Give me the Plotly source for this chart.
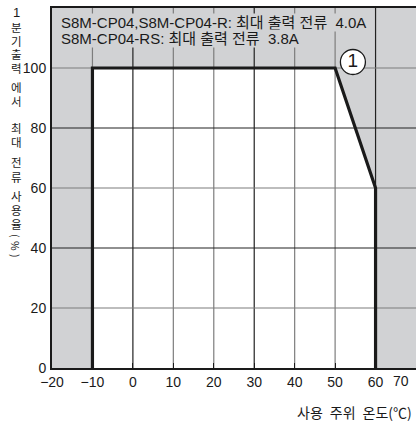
import plotly.graph_objects as go

# Derating curve: ambient temperature (°C) vs. usable current ratio (%)
temp = [-10, -10, 50, 60, 60]
load = [0, 100, 100, 60, 0]

x_ticks = [-20, -10, 0, 10, 20, 30, 40, 50, 60]
x_tick_text = ["−20", "−10", "0", "10", "20", "30", "40", "50", "60"]
y_ticks = [0, 20, 40, 60, 80, 100, 120]
grid_x = [-10, 0, 10, 20, 30, 40, 50, 60]
grid_y = [20, 40, 60, 80, 100]
dark_x = [0, 30, 60]
dark_y = [40, 80]

note_lines = [
    "S8M-CP04,S8M-CP04-R: 최대 출력 전류  4.0A",
    "S8M-CP04-RS: 최대 출력 전류  3.8A",
]
marker_label = "1"
marker_pos = (54.4, 102)

y_title_chars = ["1", "분", "기", "출", "력", "에", "서", "최", "대",
                 "전", "류", "사", "용", "율", "(", "%", ")"]
y_title_px = [13, 27, 41, 54, 68, 87, 101, 128, 142,
              162, 177, 196, 210, 224, 236, 246, 256]
x_title = "사용\u2002주위\u2002온도(℃)"

FONT = "Liberation Sans, Arial, Noto Sans CJK KR, sans-serif"
KFONT = "Noto Sans CJK KR, Liberation Sans, sans-serif"
GRAY_BG = "#d1d2d4"

W, H = 416, 421
ML, MR, MT, MB = 52, 0, 8, 53
plot_h = H - MT - MB

fig = go.Figure()

# white operating area under the curve
path = "M " + " L ".join(f"{x},{y}" for x, y in zip(temp, load)) + " Z"
shapes = [dict(type="path", path=path, xref="x", yref="y",
               fillcolor="white", line=dict(width=0), layer="below")]

for gx in grid_x:
    shapes.append(dict(type="line", xref="x", yref="y", x0=gx, x1=gx, y0=0, y1=120,
                       line=dict(color="#222" if gx in dark_x else "#7d7d7d", width=1.2),
                       layer="between"))
for gy in grid_y:
    shapes.append(dict(type="line", xref="x", yref="y", x0=-20, x1=70, y0=gy, y1=gy,
                       line=dict(color="#222" if gy in dark_y else "#7d7d7d", width=1.2),
                       layer="between"))

fig.add_trace(go.Scatter(x=temp, y=load, mode="lines",
                         line=dict(color="#1a1a1a", width=3.2),
                         hoverinfo="skip", showlegend=False))

fig.add_trace(go.Scatter(x=[marker_pos[0]], y=[marker_pos[1]], mode="markers+text",
                         marker=dict(size=25, color="white",
                                     line=dict(color="#1a1a1a", width=1.3)),
                         text=[marker_label], textposition="middle center",
                         textfont=dict(family=FONT, size=19, color="#1a1a1a"),
                         hoverinfo="skip", showlegend=False))

annotations = []
for line, py in zip(note_lines, [23, 38]):
    annotations.append(dict(
        text=line, xref="paper", yref="paper", x=0, xshift=8,
        y=(H - MB - py) / plot_h, xanchor="left", yanchor="middle",
        showarrow=False, bgcolor=GRAY_BG, borderpad=0,
        font=dict(family=FONT, size=15, color="#1a1a1a")))

# y-axis title, written vertically one character at a time
for ch, py in zip(y_title_chars, y_title_px):
    rotated = ch in "(%)"
    annotations.append(dict(
        text=ch, xref="paper", yref="paper", x=0, xshift=16 - ML,
        y=(H - MB - py) / plot_h, xanchor="center", yanchor="middle",
        showarrow=False, textangle=90 if rotated else 0,
        font=dict(family=FONT if ch.isdigit() else KFONT,
                  size=13 if ch.isdigit() else (10.5 if rotated else 11.5),
                  color="#1a1a1a")))

annotations.append(dict(text="70", xref="x", yref="paper", x=70, xshift=-5, y=0, yshift=-3,
                        xanchor="right", yanchor="top", showarrow=False,
                        font=dict(family=FONT, size=14, color="#1a1a1a")))
annotations.append(dict(text=x_title, xref="paper", yref="paper", x=1, xshift=-2,
                        y=0, yshift=-32, xanchor="right", yanchor="top", showarrow=False,
                        font=dict(family=KFONT, size=14, color="#1a1a1a")))

fig.update_layout(
    width=W, height=H,
    margin=dict(l=ML, r=MR, t=MT, b=MB, pad=0),
    paper_bgcolor="white", plot_bgcolor=GRAY_BG,
    shapes=shapes, annotations=annotations,
    xaxis=dict(range=[-20, 70], tickvals=x_ticks, ticktext=x_tick_text,
               showgrid=False, zeroline=False, showline=True, linecolor="#1a1a1a",
               linewidth=2, mirror=True, ticks="inside", ticklen=5,
               tickcolor="#1a1a1a", tickfont=dict(family=FONT, size=14, color="#1a1a1a")),
    yaxis=dict(range=[0, 120], tickvals=y_ticks, showgrid=False, zeroline=False,
               showline=True, linecolor="#1a1a1a", linewidth=2, ticks="",
               ticklabelstandoff=1,
               tickfont=dict(family=FONT, size=14, color="#1a1a1a")),
    font=dict(family=FONT),
)

fig.write_html("out.html")
